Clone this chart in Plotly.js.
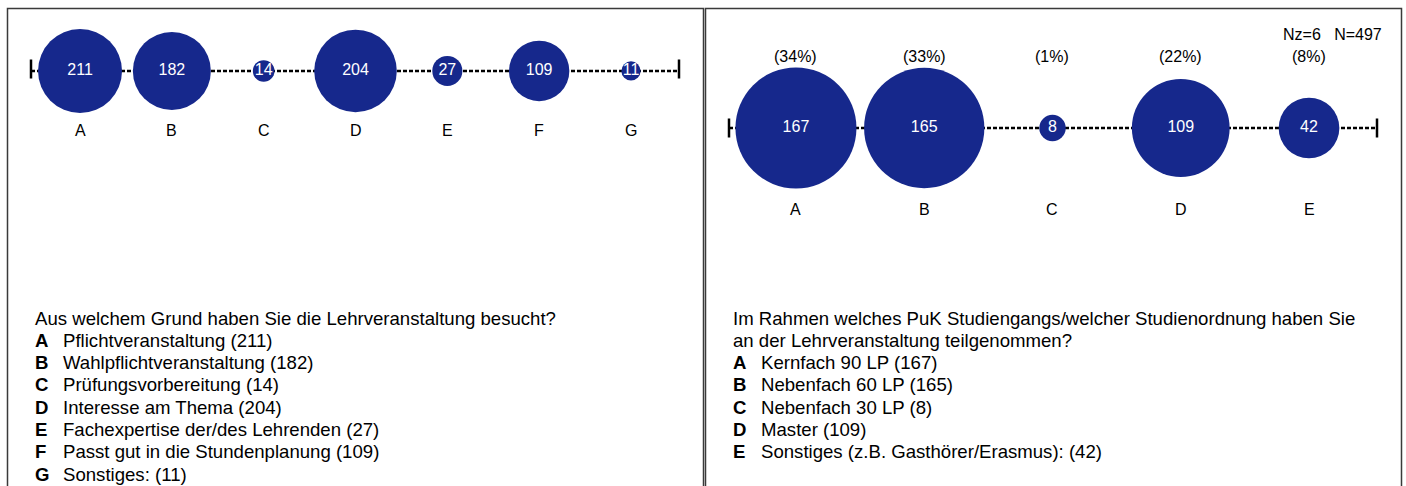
<!DOCTYPE html>
<html><head><meta charset="utf-8">
<script src="https://cdn.plot.ly/plotly-3.0.1.min.js"></script>
<style>html,body{margin:0;padding:0;background:#fff}#chart{width:1406px;height:486px}</style>
</head><body><div id="chart"></div>
<script>
// ---- data ----
const leftCategories = ['A','B','C','D','E','F','G'];
const leftValues = [211,182,14,204,27,109,11];
const leftDescriptions = ['Pflichtveranstaltung','Wahlpflichtveranstaltung','Prüfungsvorbereitung','Interesse am Thema','Fachexpertise der/des Lehrenden','Passt gut in die Stundenplanung','Sonstiges:'];
const leftQuestion = ['Aus welchem Grund haben Sie die Lehrveranstaltung besucht?'];

const rightCategories = ['A','B','C','D','E'];
const rightValues = [167,165,8,109,42];
const rightPercents = [34,33,1,22,8];
const rightDescriptions = ['Kernfach 90 LP','Nebenfach 60 LP','Nebenfach 30 LP','Master','Sonstiges (z.B. Gasthörer/Erasmus):'];
const rightQuestion = ['Im Rahmen welches PuK Studiengangs/welcher Studienordnung haben Sie','an der Lehrveranstaltung teilgenommen?'];
const rightNz = 6;
const rightN = 497;

// ---- layout helpers ----
const W = 1406, H = 486;
const px = x => x / W;
const py = y => 1 - y / H;
const NAVY = '#16288c';
const FONT = 'Liberation Sans, Arial, Helvetica, sans-serif';

const traces = [
  {
    type: 'scatter', mode: 'markers+text',
    x: leftCategories, y: leftCategories.map(() => 0),
    text: leftValues.map(String),
    textposition: 'middle center',
    textfont: {color: '#ffffff', size: 16, family: FONT},
    marker: {size: leftValues, sizemode: 'area', sizeref: 0.0598, color: NAVY, line: {width: 0}, opacity: 1},
    cliponaxis: false, hoverinfo: 'skip', xaxis: 'x', yaxis: 'y', showlegend: false
  },
  {
    type: 'scatter', mode: 'markers+text',
    x: rightCategories, y: rightCategories.map(() => 0),
    text: rightValues.map(String),
    textposition: 'middle center',
    textfont: {color: '#ffffff', size: 16, family: FONT},
    marker: {size: rightValues, sizemode: 'area', sizeref: 0.02281, color: NAVY, line: {width: 0}, opacity: 1},
    cliponaxis: false, hoverinfo: 'skip', xaxis: 'x2', yaxis: 'y2', showlegend: false
  }
];

const hiddenAxis = {showgrid: false, zeroline: false, showticklabels: false, showline: false, ticks: '', fixedrange: true};

const leftLineY = 69, rightLineY = 128;
const annotations = [];
const ann = (o) => annotations.push(Object.assign({showarrow: false, borderpad: 0, font: {family: FONT, size: 16, color: '#000'}}, o));

// category letters under circles
leftCategories.forEach(c => ann({x: c, xref: 'x', y: py(130), yref: 'paper', text: c, xanchor: 'center', yanchor: 'middle'}));
rightCategories.forEach(c => ann({x: c, xref: 'x2', y: py(209), yref: 'paper', text: c, xanchor: 'center', yanchor: 'middle'}));
// percentages
rightCategories.forEach((c, i) => ann({x: c, xref: 'x2', y: py(57), yref: 'paper', text: '(' + rightPercents[i] + '%)', xanchor: 'center', yanchor: 'middle'}));
// Nz / N
ann({x: px(1383), xref: 'paper', y: py(35), yref: 'paper', text: 'Nz=' + rightNz + '\u00a0\u00a0\u00a0N=' + rightN, xanchor: 'right', yanchor: 'middle'});

// text blocks
const TXT = 18.6, STEP = 22.3;
const tfont = {family: FONT, size: TXT, color: '#000'};
leftQuestion.forEach((t, i) => ann({x: px(34), xref: 'paper', y: py(318 + i * STEP), yref: 'paper', text: t, xanchor: 'left', yanchor: 'middle', font: tfont}));
leftCategories.forEach((c, i) => {
  const y = py(318 + (leftQuestion.length + i) * STEP);
  ann({x: px(34), xref: 'paper', y, yref: 'paper', text: '<b>' + c + '</b>', xanchor: 'left', yanchor: 'middle', font: tfont});
  ann({x: px(61.5), xref: 'paper', y, yref: 'paper', text: leftDescriptions[i] + ' (' + leftValues[i] + ')', xanchor: 'left', yanchor: 'middle', font: tfont});
});
rightQuestion.forEach((t, i) => ann({x: px(732), xref: 'paper', y: py(318 + i * STEP), yref: 'paper', text: t, xanchor: 'left', yanchor: 'middle', font: tfont}));
rightCategories.forEach((c, i) => {
  const y = py(318 + (rightQuestion.length + i) * STEP);
  ann({x: px(732), xref: 'paper', y, yref: 'paper', text: '<b>' + c + '</b>', xanchor: 'left', yanchor: 'middle', font: tfont});
  ann({x: px(760), xref: 'paper', y, yref: 'paper', text: rightDescriptions[i] + ' (' + rightValues[i] + ')', xanchor: 'left', yanchor: 'middle', font: tfont});
});

const shapes = [];
// panel frames
shapes.push({type: 'rect', xref: 'paper', yref: 'paper', x0: px(7.5), x1: px(703.5), y0: -0.05, y1: py(8.5), line: {color: '#3a3a3a', width: 1.5}, layer: 'below'});
shapes.push({type: 'rect', xref: 'paper', yref: 'paper', x0: px(705.5), x1: px(1401.5), y0: -0.05, y1: py(8.5), line: {color: '#3a3a3a', width: 1.5}, layer: 'below'});
// dashed axis lines + end ticks
[['x', 'y', leftLineY], ['x2', 'y2', rightLineY]].forEach(([xa, ya, ly]) => {
  shapes.push({type: 'line', xref: xa + ' domain', yref: ya, x0: 0, x1: 1, y0: 0, y1: 0, line: {color: '#000', width: 2.6, dash: '4px,2px'}, layer: 'below'});
  [0, 1].forEach(xd => shapes.push({type: 'line', xref: xa + ' domain', yref: 'paper', x0: xd, x1: xd, y0: py(ly - 9.5), y1: py(ly + 9.5), line: {color: '#000', width: 2.5}, layer: 'below'}));
});

const hY = 0.15;
const layout = {
  width: W, height: H,
  margin: {l: 0, r: 0, t: 0, b: 0, pad: 0},
  paper_bgcolor: '#ffffff', plot_bgcolor: 'rgba(0,0,0,0)',
  font: {family: FONT},
  showlegend: false,
  xaxis: Object.assign({}, hiddenAxis, {type: 'category', domain: [px(31), px(679)], range: [-0.534, 6.523], anchor: 'y'}),
  yaxis: Object.assign({}, hiddenAxis, {domain: [py(leftLineY) - hY, py(leftLineY) + hY], range: [-1, 1], anchor: 'x'}),
  xaxis2: Object.assign({}, hiddenAxis, {type: 'category', domain: [px(729), px(1377)], range: [-0.522, 4.530], anchor: 'y2'}),
  yaxis2: Object.assign({}, hiddenAxis, {domain: [py(rightLineY) - hY, py(rightLineY) + hY], range: [-1, 1], anchor: 'x2'}),
  annotations, shapes
};

Plotly.newPlot('chart', traces, layout, {displayModeBar: false, staticPlot: true});
</script>
</body></html>
